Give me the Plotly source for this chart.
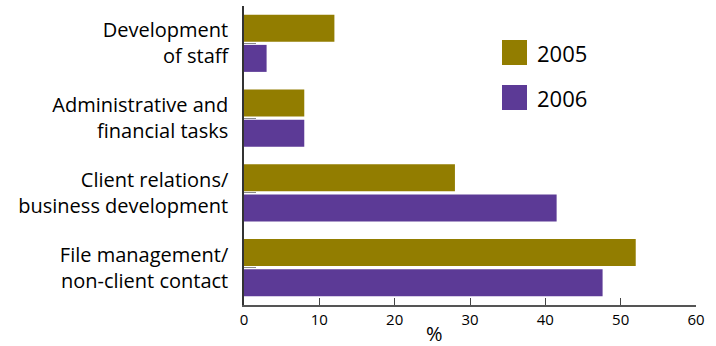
import plotly.graph_objects as go

categories = ["Development<br>of staff", "Administrative and<br>financial tasks",
              "Client relations/<br>business development", "File management/<br>non-client contact"]
values_2005 = [12, 8, 28, 52]
values_2006 = [3, 8, 41.5, 47.6]
series_names = ["2005", "2006"]
colors = ["#927D00", "#5C3A96"]
x_ticks = [0, 10, 20, 30, 40, 50, 60]

fig = go.Figure()
for name, vals, col in zip(series_names, [values_2005, values_2006], colors):
    fig.add_trace(go.Bar(y=categories, x=vals, orientation="h", name=name,
                         marker=dict(color=col, line=dict(width=0)), showlegend=False))

W, H = 716, 346
L, R, T, B = 244, 20, 6, 41
pw, ph = W - L - R, H - T - B

def px(x):
    return (x - L) / pw

def py(y):
    return 1 - (y - T) / ph

shapes = []
annotations = []
for i, (name, col) in enumerate(zip(series_names, colors)):
    top = 40 + i * 45
    shapes.append(dict(type="rect", xref="paper", yref="paper",
                       x0=px(502), x1=px(527), y0=py(top + 25), y1=py(top),
                       fillcolor=col, line=dict(width=0)))
    annotations.append(dict(xref="paper", yref="paper", x=px(535), y=py(top + 13),
                            text=name, showarrow=False, xanchor="left", yanchor="middle",
                            font=dict(size=22, color="black", family="Open Sans")))

annotations.append(dict(xref="paper", yref="paper", x=px(434), y=py(333),
                        text="%", showarrow=False, xanchor="center", yanchor="middle",
                        font=dict(size=20, color="black", family="Open Sans")))

fig.update_layout(
    width=W, height=H,
    margin=dict(l=L, r=R, t=T, b=B, autoexpand=False),
    paper_bgcolor="white", plot_bgcolor="white",
    barmode="group", bargap=0.197, bargroupgap=0.1,
    font=dict(family="Open Sans", color="black"),
    shapes=shapes, annotations=annotations,
    xaxis=dict(range=[0, 60], tickvals=x_ticks, ticks="inside", ticklen=7,
               tickcolor="#444", showline=True, linecolor="#555", linewidth=1.5,
               showgrid=False, zeroline=False, tickfont=dict(size=15, color="black")),
    yaxis=dict(categoryorder="array", categoryarray=categories, autorange="reversed",
               ticks="inside", ticklen=12, tickcolor="#888", showline=True,
               linecolor="#333", linewidth=1.5, showgrid=False, zeroline=False,
               ticklabelstandoff=10, tickfont=dict(size=20, color="black")),
)

fig.write_html("out.html", config={"displayModeBar": False},
               post_script="document.body.style.margin='0';document.body.style.overflow='hidden';")
